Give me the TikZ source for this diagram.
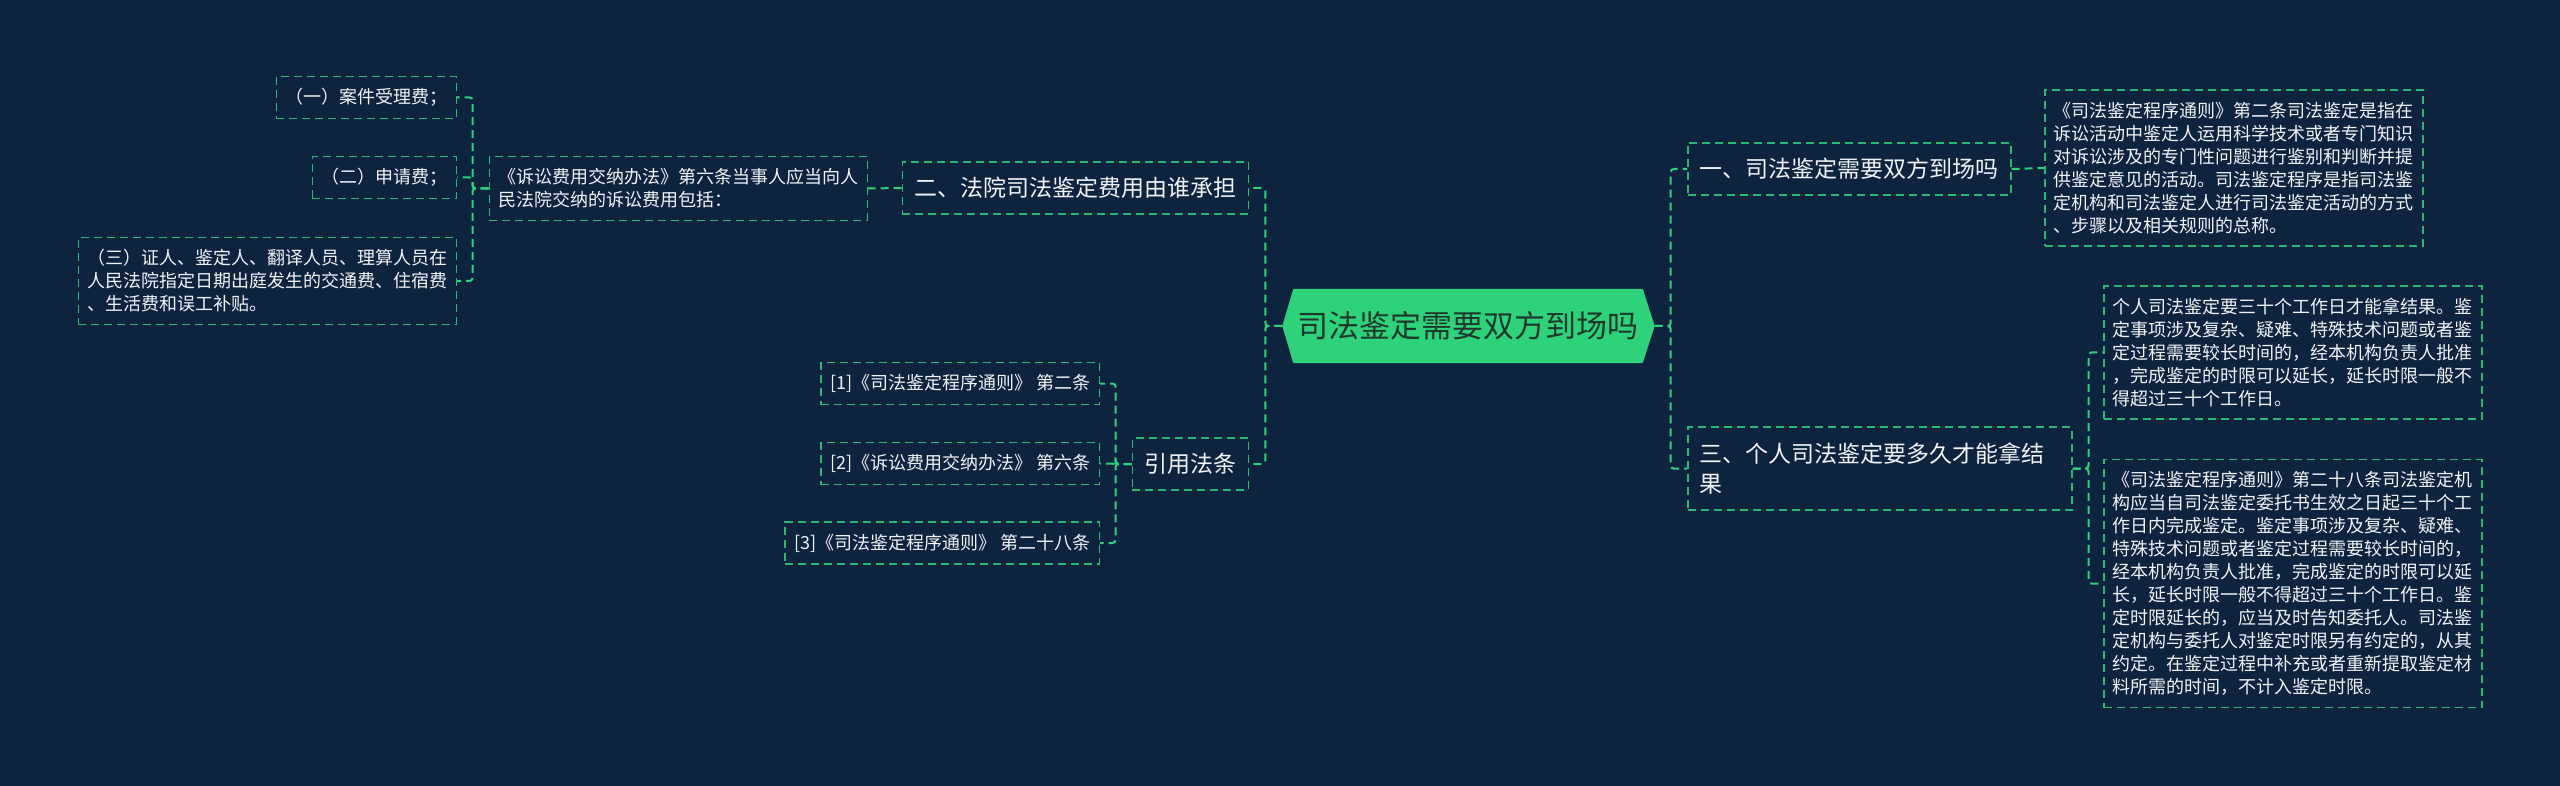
\documentclass[tikz,border=0pt]{standalone}
\usepackage{fontspec}
\setmainfont{Noto Sans CJK SC}
\usepackage{tikz}
\usetikzlibrary{backgrounds}
\definecolor{bgnavy}{RGB}{13,35,62}
\definecolor{mapgreen}{RGB}{46,210,122}
\definecolor{rootink}{RGB}{30,56,46}
\definecolor{leafink}{RGB}{240,244,248}

\begin{document}
\begin{tikzpicture}[
  x=1pt, y=-1pt,
  link/.style={draw=mapgreen, line width=2pt, dash pattern=on 8pt off 5pt, rounded corners=3pt},
  leaf/.style={draw=mapgreen!85!bgnavy, line width=1.5pt, dash pattern=on 8pt off 5pt,
    text=leafink, align=left, inner xsep=9pt, inner ysep=12pt, font=\fontsize{18}{23}\selectfont},
  branch/.style={leaf, inner xsep=12pt, inner ysep=15.5pt, font=\fontsize{23}{30}\selectfont},
  rootbox/.style={text=rootink, inner sep=0pt, minimum width=349pt, minimum height=74pt,
    font=\fontsize{31}{36}\selectfont}
]
\useasboundingbox (0,0) rectangle (2560,786);

% centre topic
\node[rootbox] (root) at (1468,326) {司法鉴定需要双方到场吗};
\coordinate (rootL) at ([xshift=-11pt]root.west);
\coordinate (rootR) at ([xshift=12pt]root.east);

% right side
\node[branch, anchor=west] (b1) at (1687,169) {一、司法鉴定需要双方到场吗};
\node[leaf, anchor=west] (d1) at (2044,168) {《司法鉴定程序通则》第二条司法鉴定是指在\\
  诉讼活动中鉴定人运用科学技术或者专门知识\\
  对诉讼涉及的专门性问题进行鉴别和判断并提\\
  供鉴定意见的活动。司法鉴定程序是指司法鉴\\
  定机构和司法鉴定人进行司法鉴定活动的方式\\
  、步骤以及相关规则的总称。};
\node[branch, anchor=west, text width=360pt] (b3) at (1687,468.5) {三、个人司法鉴定要多久才能拿结\\果};
\node[leaf, anchor=west] (d3a) at (2103,352.5) {个人司法鉴定要三十个工作日才能拿结果。鉴\\
  定事项涉及复杂、疑难、特殊技术问题或者鉴\\
  定过程需要较长时间的，经本机构负责人批准\\
  ，完成鉴定的时限可以延长，延长时限一般不\\
  得超过三十个工作日。};
\node[leaf, anchor=west] (d3b) at (2103,583.5) {《司法鉴定程序通则》第二十八条司法鉴定机\\
  构应当自司法鉴定委托书生效之日起三十个工\\
  作日内完成鉴定。鉴定事项涉及复杂、疑难、\\
  特殊技术问题或者鉴定过程需要较长时间的，\\
  经本机构负责人批准，完成鉴定的时限可以延\\
  长，延长时限一般不得超过三十个工作日。鉴\\
  定时限延长的，应当及时告知委托人。司法鉴\\
  定机构与委托人对鉴定时限另有约定的，从其\\
  约定。在鉴定过程中补充或者重新提取鉴定材\\
  料所需的时间，不计入鉴定时限。};

% left side
\node[branch, anchor=east] (b2) at (1249,188) {二、法院司法鉴定费用由谁承担};
\node[leaf, anchor=east] (d2) at (868,188.5) {《诉讼费用交纳办法》第六条当事人应当向人\\
  民法院交纳的诉讼费用包括：};
\node[leaf, anchor=east] (s1) at (457,97.5) {（一）案件受理费；};
\node[leaf, anchor=east] (s2) at (457,177.5) {（二）申请费；};
\node[leaf, anchor=east] (s3) at (457,281) {（三）证人、鉴定人、翻译人员、理算人员在\\
  人民法院指定日期出庭发生的交通费、住宿费\\
  、生活费和误工补贴。};
\node[branch, anchor=east] (cite) at (1249,464) {引用法条};
\node[leaf, anchor=east] (r1) at (1100,383.5) {[1]《司法鉴定程序通则》 第二条};
\node[leaf, anchor=east] (r2) at (1100,463.5) {[2]《诉讼费用交纳办法》 第六条};
\node[leaf, anchor=east] (r3) at (1100,543) {[3]《司法鉴定程序通则》 第二十八条};

% connectors
\draw[link] (rootR) -- ++(16,0) |- (b1.west);
\draw[link] (rootR) -- ++(16,0) |- (b3.west);
\draw[link] (b1.east) -- (d1.west);
\draw[link] (b3.east) -- ++(16,0) |- (d3a.west);
\draw[link] (b3.east) -- ++(16,0) |- (d3b.west);
\draw[link] (rootL) -- ++(-17,0) |- (b2.east);
\draw[link] (rootL) -- ++(-17,0) |- (cite.east);
\draw[link] (b2.west) -- (d2.east);
\foreach \n in {s1,s2,s3}
  \draw[link] (d2.west) -- ++(-16,0) |- (\n.east);
\foreach \n in {r1,r2,r3}
  \draw[link] (cite.west) -- ++(-16,0) |- (\n.east);

\begin{scope}[on background layer]
  \fill[bgnavy] (0,0) rectangle (2560,786);
  \fill[mapgreen] (root.north west) -- (root.north east) -- (rootR) -- (root.south east)
    -- (root.south west) -- (rootL) -- cycle;
\end{scope}
\end{tikzpicture}
\end{document}
